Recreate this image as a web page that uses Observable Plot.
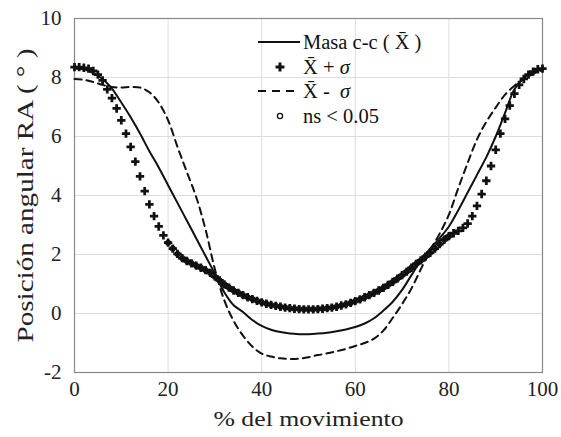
<!DOCTYPE html>
<html>
<head>
<meta charset="utf-8">
<script src="https://cdn.jsdelivr.net/npm/d3@7"></script>
<script src="https://cdn.jsdelivr.net/npm/@observablehq/plot@0.6"></script>
<style>
  html, body { margin: 0; padding: 0; background: #fff; }
  svg { display: block; }
  svg, svg text { font-family: 'Liberation Serif', 'Times New Roman', serif !important; }
</style>
</head>
<body>
<div id="chart"></div>
<script>
// Mean curve (solid) and mean - sigma (dashed), sampled every 2 %
const lineX = [0,2,4,6,8,10,12,14,16,18,20,22,24,26,28,30,32,34,36,38,40,42,44,46,48,50,52,54,56,58,60,62,64,66,68,70,72,74,76,78,80,82,84,86,88,90,92,94,96,98,100];
const meanY = [8.30,8.28,8.15,7.95,7.62,7.15,6.65,6.10,5.50,4.95,4.35,3.75,3.15,2.55,1.95,1.35,0.72,0.28,0.05,-0.22,-0.42,-0.55,-0.63,-0.68,-0.70,-0.70,-0.68,-0.65,-0.60,-0.54,-0.46,-0.34,-0.16,0.10,0.40,0.80,1.30,1.80,2.20,2.55,2.95,3.50,4.10,4.70,5.30,6.00,6.80,7.60,7.98,8.20,8.30];
const minusY = [7.95,7.92,7.85,7.75,7.68,7.66,7.68,7.66,7.50,7.15,6.55,5.65,4.80,3.95,2.85,1.50,0.45,-0.25,-0.75,-1.12,-1.36,-1.46,-1.52,-1.54,-1.53,-1.48,-1.41,-1.35,-1.28,-1.20,-1.10,-1.00,-0.85,-0.58,-0.15,0.32,0.85,1.50,2.15,2.70,3.35,4.25,5.10,5.90,6.50,6.98,7.42,7.72,7.95,8.12,8.25];
// Mean + sigma, one marker per 1 %
const plusX = d3.range(0, 101);
const plusY = [8.35,8.35,8.33,8.30,8.22,8.10,7.90,7.60,7.30,6.95,6.55,6.10,5.65,5.15,4.65,4.15,3.70,3.30,2.95,2.65,2.40,2.20,2.02,1.88,1.78,1.70,1.62,1.55,1.47,1.38,1.25,1.12,0.99,0.88,0.78,0.70,0.62,0.55,0.49,0.43,0.38,0.33,0.29,0.26,0.23,0.20,0.18,0.16,0.15,0.14,0.14,0.14,0.15,0.16,0.18,0.20,0.23,0.27,0.31,0.36,0.42,0.48,0.55,0.62,0.70,0.78,0.87,0.97,1.07,1.18,1.30,1.42,1.55,1.68,1.80,1.93,2.06,2.20,2.35,2.50,2.62,2.72,2.80,2.90,3.05,3.30,3.65,4.05,4.50,5.00,5.55,6.10,6.60,7.05,7.45,7.75,7.95,8.10,8.20,8.28,8.30];
// points marked ns < 0.05 (on the +sigma curve)
const nsX = d3.range(20, 81);

const xTicks = [0,20,40,60,80,100];
const yTicks = [-2,0,2,4,6,8,10];

const lines = lineX.map((x, i) => ({x, mean: meanY[i], minus: minusY[i]}));
const plus = plusX.map((x, i) => ({x, y: plusY[i]}));
const ns = nsX.map(x => ({x, y: plusY[x]}));

const font = "Liberation Serif";

const chart = Plot.plot({
  width: 561,
  height: 437,
  marginLeft: 74,
  marginRight: 19,
  marginTop: 18,
  marginBottom: 65,
  style: {fontFamily: font, fontSize: "21px", color: "#222", background: "#fff"},
  x: {domain: [0, 100]},
  y: {domain: [-2, 10]},
  marks: [
    Plot.gridX(xTicks, {stroke: "#ddd", strokeOpacity: 1}),
    Plot.gridY(yTicks, {stroke: "#ddd", strokeOpacity: 1}),
    Plot.frame({stroke: "#888", strokeWidth: 1.2}),
    Plot.axisX({ticks: xTicks, tickSize: 0, tickPadding: 9, tickFormat: d => String(d), fontSize: 21, label: null}),
    Plot.axisX({ticks: [], tickSize: 0, label: "% del movimiento", labelAnchor: "center", labelArrow: "none", labelOffset: 53, fontSize: 22}),
    Plot.axisY({ticks: yTicks, tickSize: 0, tickPadding: 13, tickFormat: d => String(d), fontSize: 21, label: null}),
    Plot.axisY({ticks: [], tickSize: 0, label: "Posición angular RA ( ° )", labelAnchor: "center", labelArrow: "none", labelOffset: 58, fontSize: 23}),
    Plot.line(lines, {x: "x", y: "mean", stroke: "#111", strokeWidth: 2, curve: "catmull-rom"}),
    Plot.line(lines, {x: "x", y: "minus", stroke: "#111", strokeWidth: 2, strokeDasharray: "7,5", curve: "catmull-rom"}),
    Plot.dot(ns, {x: "x", y: "y", r: 2.4, stroke: "#111", strokeWidth: 1.2, fill: "none"}),
    Plot.dot(plus, {x: "x", y: "y", symbol: "cross", r: 3.5, fill: "#111", stroke: "none"})
  ]
});

document.getElementById("chart").appendChild(chart);

const svg = d3.select(chart);
// stretch axis titles to the width seen in the reference
svg.selectAll('g[aria-label="x-axis label"] text').attr("textLength", 190).attr("lengthAdjust", "spacingAndGlyphs");
svg.selectAll('g[aria-label="y-axis label"] text').attr("textLength", 294).attr("lengthAdjust", "spacingAndGlyphs");

// Legend inside the plot area
const lg = svg.append("g").attr("font-family", font).attr("font-size", 20.5).attr("fill", "#111").attr("text-anchor", "start");
const rows = [42, 67, 91, 116];
const tx = 303;
lg.append("line").attr("x1", 258).attr("x2", 300).attr("y1", rows[0]).attr("y2", rows[0]).attr("stroke", "#111").attr("stroke-width", 2.2);
lg.append("path").attr("d", d3.symbol(d3.symbolCross, 44)()).attr("transform", `translate(280,${rows[1]})`).attr("fill", "#111");
lg.append("line").attr("x1", 258).attr("x2", 300).attr("y1", rows[2]).attr("y2", rows[2]).attr("stroke", "#111").attr("stroke-width", 2.2).attr("stroke-dasharray", "8,6");
lg.append("circle").attr("cx", 280).attr("cy", rows[3]).attr("r", 2.6).attr("fill", "none").attr("stroke", "#111").attr("stroke-width", 1.3);

const t1 = lg.append("text").attr("x", tx).attr("y", rows[0]).attr("dy", "0.35em");
t1.text("Masa c-c ( X\u0304 )");
const t2 = lg.append("text").attr("x", tx).attr("y", rows[1]).attr("dy", "0.35em");
t2.append("tspan").text("X\u0304 + ");
t2.append("tspan").attr("font-style", "italic").text("σ");
const t3 = lg.append("text").attr("x", tx).attr("y", rows[2]).attr("dy", "0.35em");
t3.append("tspan").text("X\u0304 -  ");
t3.append("tspan").attr("font-style", "italic").text("σ");
const t4 = lg.append("text").attr("x", tx).attr("y", rows[3]).attr("dy", "0.35em");
t4.text("ns < 0.05");
</script>
</body>
</html>
